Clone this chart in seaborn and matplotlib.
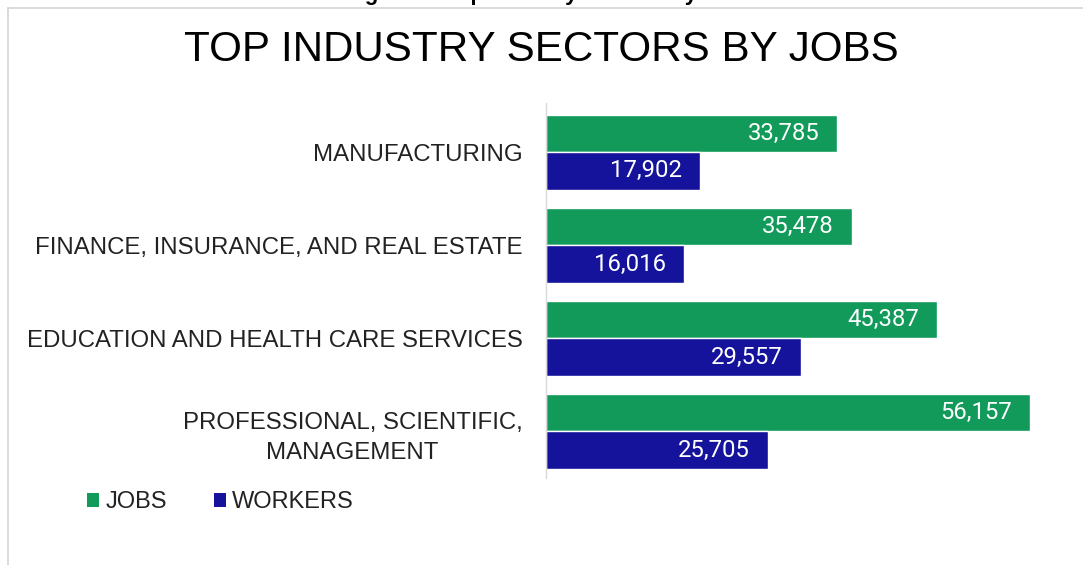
import matplotlib
matplotlib.use("Agg")
import matplotlib.pyplot as plt
from matplotlib.patches import Patch
from matplotlib.lines import Line2D
import pandas as pd
import seaborn as sns

# Data
sectors = [
    "MANUFACTURING",
    "FINANCE, INSURANCE, AND REAL ESTATE",
    "EDUCATION AND HEALTH CARE SERVICES",
    "PROFESSIONAL, SCIENTIFIC,\nMANAGEMENT",
]
jobs = [33785, 35478, 45387, 56157]
workers = [17902, 16016, 29557, 25705]
series_names = ["JOBS", "WORKERS"]
series_colors = ["#119A5A", "#15139C"]

df = pd.DataFrame({
    "sector": sectors * 2,
    "value": jobs + workers,
    "series": [series_names[0]] * len(sectors) + [series_names[1]] * len(sectors),
})

sns.set_theme(style="white")
plt.rcParams["font.family"] = ["Liberation Sans", "DejaVu Sans"]

W, H = 1083, 565
fig = plt.figure(figsize=(W / 100, H / 100), dpi=100)
ax = fig.add_axes([546 / W, 1 - 478 / H, 500 / W, 375 / H])

sns.barplot(
    data=df, y="sector", x="value", hue="series", orient="h",
    palette=series_colors, saturation=1, width=0.8, legend=False, ax=ax,
)

ax.set_xlim(0, 58000)
ax.set_ylim(3.5, -0.53)
ax.set_xlabel("")
ax.set_ylabel("")
ax.set_xticks([])

for side in ["top", "right", "bottom"]:
    ax.spines[side].set_visible(False)
ax.spines["left"].set_color("#d9d9d9")
ax.spines["left"].set_linewidth(1.0)

ax.set_yticks(range(len(sectors)))
ax.set_yticklabels(sectors, linespacing=1.5, multialignment="center")
ax.tick_params(axis="y", length=0, pad=17, labelsize=17.3, labelcolor="#222222")

# Value labels inside the bar ends
for container in ax.containers:
    texts = ax.bar_label(
        container, labels=[f"{v:,.0f}" for v in container.datavalues],
        padding=-13, color="white", fontsize=17.2,
        family=["Roboto", "DejaVu Sans"],
    )
    for t in texts:
        t.set_ha("right")

# Title
fig.text(0.5, 1 - 50 / H, "TOP INDUSTRY SECTORS BY JOBS", ha="center", va="center",
         fontsize=30.3, color="black")

# Caption line above the chart frame
fig.text(0.508, 1.0, "Figure 4: Top Industry Sectors by Jobs", ha="center",
         va="baseline", fontsize=16, fontweight="bold", color="black")

# Chart frame
frame_color = "#d4d4d4"
fig.add_artist(Line2D([7.5 / W, 7.5 / W], [0, 1 - 8 / H], transform=fig.transFigure,
                      color=frame_color, lw=1.2))
fig.add_artist(Line2D([7.5 / W, 1], [1 - 8 / H, 1 - 8 / H], transform=fig.transFigure,
                      color=frame_color, lw=1.2))

# Legend
handles = [Patch(facecolor=c, edgecolor="none", label=n)
           for n, c in zip(series_names, series_colors)]
fig.legend(
    handles=handles, loc="center left", bbox_to_anchor=(87 / W, 1 - 502 / H),
    ncol=2, frameon=False, fontsize=17, handlelength=0.52, handleheight=0.52,
    handletextpad=0.25, columnspacing=2.0, borderpad=0, borderaxespad=0,
    labelcolor="#222222",
)

fig.savefig("out.png", dpi=100, facecolor="white")
